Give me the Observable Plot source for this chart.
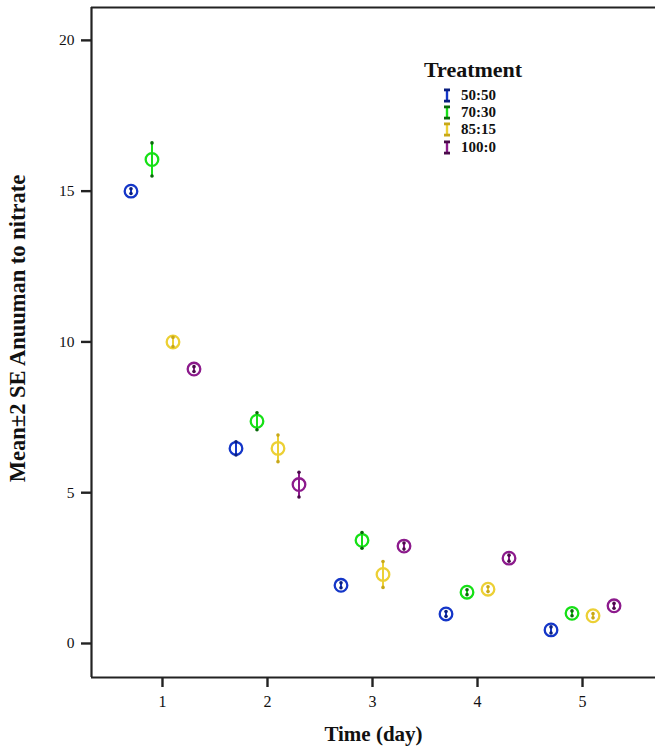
<!DOCTYPE html>
<html>
<head>
<meta charset="utf-8">
<script src="https://cdn.jsdelivr.net/npm/d3@7"></script>
<script src="https://cdn.jsdelivr.net/npm/@observablehq/plot@0.6"></script>
<style>
  html, body { margin: 0; padding: 0; background: #fff; }
  #wrap { position: relative; width: 655px; height: 750px; overflow: hidden; }
  #legend { position: absolute; left: 424px; top: 57px; font-family: "Liberation Serif", "Times New Roman", serif; font-weight: bold; color: #111; }
  #legend .title { font-size: 22px; line-height: 26px; margin-bottom: 4px; }
  #legend .row { display: flex; align-items: center; height: 17.2px; line-height: 15px; font-size: 15px; padding-left: 19px; }
  #legend svg { margin-right: 10px; }
</style>
</head>
<body>
<div id="wrap"><div id="legend"></div></div>
<script>
const days = [1, 2, 3, 4, 5];
const treatments = ["50:50", "70:30", "85:15", "100:0"];
const colors = ["#1436c8", "#16e016", "#ecd035", "#8c1a8c"];
const capColors = ["#0a1f80", "#0a6a0a", "#c8a818", "#4a0a4a"];
const mean5050 = [15.0, 6.47, 1.93, 0.98, 0.45];
const mean7030 = [16.05, 7.37, 3.42, 1.7, 1.0];
const mean8515 = [10.0, 6.47, 2.29, 1.8, 0.92];
const mean1000 = [9.1, 5.27, 3.23, 2.83, 1.25];
const se5050 = [0.08, 0.22, 0.08, 0.08, 0.1];
const se7030 = [0.55, 0.28, 0.26, 0.08, 0.08];
const se8515 = [0.15, 0.44, 0.43, 0.08, 0.07];
const se1000 = [0.08, 0.41, 0.1, 0.1, 0.08];
const yTicks = [0, 5, 10, 15, 20];

const means = [mean5050, mean7030, mean8515, mean1000];
const ses = [se5050, se7030, se8515, se1000];
const offsets = [-0.3, -0.1, 0.1, 0.3];

const data = [];
treatments.forEach((t, i) => {
  days.forEach((d, j) => {
    data.push({
      treatment: t,
      x: d + offsets[i],
      y: means[i][j],
      lo: means[i][j] - ses[i][j],
      hi: means[i][j] + ses[i][j]
    });
  });
});

const font = "'Liberation Serif', 'Times New Roman', serif";
const xDomain = [0.324, 5.695];
const yDomain = [-1.128, 21.09];
const capFill = d => capColors[treatments.indexOf(d.treatment)];

const chart = Plot.plot({
  width: 655,
  height: 750,
  marginLeft: 91,
  marginRight: 0,
  marginTop: 7,
  marginBottom: 73,
  style: { fontFamily: font, background: "#fff", color: "#111" },
  x: { domain: xDomain },
  y: { domain: yDomain },
  color: { domain: treatments, range: colors },
  marks: [
    Plot.axisX({ ticks: days, tickFormat: "d", tickSize: 10, tickPadding: 8, fontSize: 16, label: null, strokeWidth: 2.4, stroke: "#222" }),
    Plot.axisY({ ticks: yTicks, tickSize: 10, tickPadding: 7, fontSize: 15.5, label: null, strokeWidth: 2.4, stroke: "#222" }),
    Plot.ruleX([xDomain[0]], { stroke: "#222", strokeWidth: 2.2 }),
    Plot.ruleY([yDomain[0]], { stroke: "#222", strokeWidth: 2.2 }),
    Plot.ruleY([yDomain[1]], { stroke: "#222", strokeWidth: 2.2 }),
    Plot.ruleX(data, { x: "x", y1: "lo", y2: "hi", stroke: "treatment", strokeWidth: 2 }),
    Plot.dot(data, { x: "x", y: "y", r: 6.3, stroke: "treatment", strokeWidth: 2.3, fill: "none" }),
    Plot.dot(data, { x: "x", y: "lo", r: 1.8, fill: capFill }),
    Plot.dot(data, { x: "x", y: "hi", r: 1.8, fill: capFill }),
    Plot.text(["Time (day)"], { frameAnchor: "bottom", dy: 63, fontSize: 21, fontWeight: "bold", fill: "#111" }),
    Plot.text(["Mean±2 SE Anuuman to nitrate"], { frameAnchor: "left", textAnchor: "middle", dx: -74, dy: -14, rotate: -90, fontSize: 22.5, fontWeight: "bold", fill: "#111" })
  ]
});
const wrap = document.getElementById("wrap");
wrap.insertBefore(chart, wrap.firstChild);

const legend = document.getElementById("legend");
legend.innerHTML = '<div class="title">Treatment</div>' + treatments.map((t, i) =>
  `<div class="row"><svg width="8" height="15"><line x1="4" x2="4" y1="2" y2="13" stroke="${colors[i]}" stroke-width="2.4"/><rect x="1" y="0.5" width="6" height="2.8" fill="${capColors[i]}"/><rect x="1" y="11.7" width="6" height="2.8" fill="${capColors[i]}"/></svg><span>${t}</span></div>`
).join("");
</script>
</body>
</html>
